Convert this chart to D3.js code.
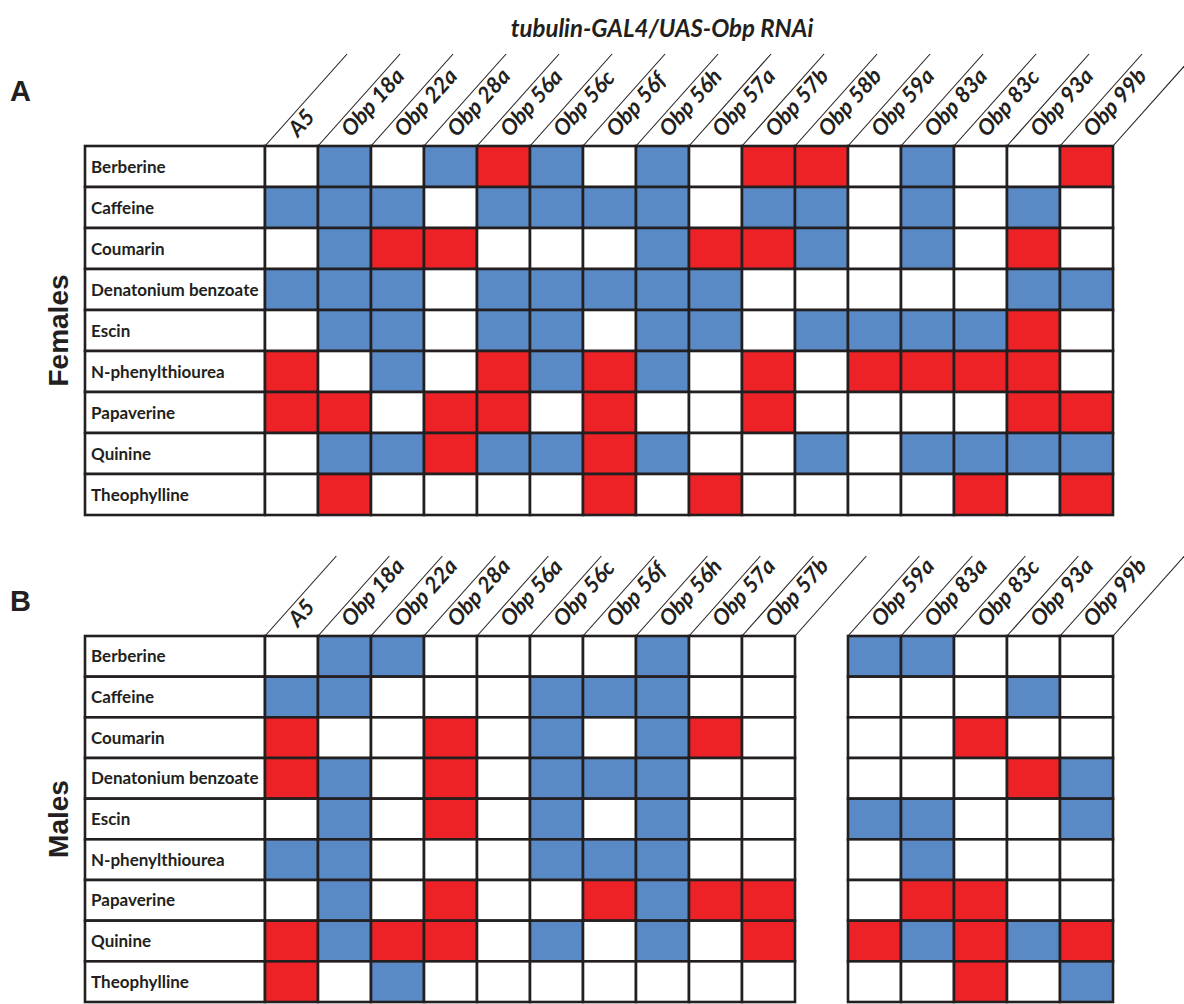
<!DOCTYPE html>
<html><head><meta charset="utf-8">
<script src="https://cdn.jsdelivr.net/npm/d3@7"></script>
<style>
html,body{margin:0;padding:0;background:#fff;}
svg{display:block;}
</style></head>
<body>
<svg id="chart" width="1184" height="1004"></svg>
<script>
// ---- data ----
const title = "tubulin-GAL4/UAS-Obp RNAi";
const lines = ["A5","Obp 18a","Obp 22a","Obp 28a","Obp 56a","Obp 56c","Obp 56f","Obp 56h","Obp 57a","Obp 57b","Obp 58b","Obp 59a","Obp 83a","Obp 83c","Obp 93a","Obp 99b"];
const compounds = ["Berberine","Caffeine","Coumarin","Denatonium benzoate","Escin","N-phenylthiourea","Papaverine","Quinine","Theophylline"];
// B = blue (decrease), R = red (increase), W = no change, - = not tested
const femaleCalls = [
  "WBWBRBWBWRRWBWWR",
  "BBBWBBBBWBBWBWBW",
  "WBRRWWWBRRBWBWRW",
  "BBBWBBBBBWWWWWBB",
  "WBBWBBWBBWBBBBRW",
  "RWBWRBRBWRWRRRRW",
  "RRWRRWRWWRWWWWRR",
  "WBBRBBRBWWBWBBBB",
  "WRWWWWRWRWWWWRWR"
];
const maleCalls = [
  "WBBWWWWBWW-BBWWW",
  "BBWWWBBBWW-WWWBW",
  "RWWRWBWBRW-WWRWW",
  "RBWRWBBBWW-WWWRB",
  "WBWRWBWBWW-BBWWB",
  "BBWWWBBBWW-WBWWW",
  "WBWRWWRBRR-WRRWW",
  "RBRRWBWBWR-RBRBR",
  "RWBWWWWWWW-WWRWB"
];
const panelNames = ["A","B"];
const sexNames = ["Females","Males"];
const colors = {B:"#5A8AC6", R:"#EC2227", W:"#ffffff"};

// ---- layout ----
const svg = d3.select("#chart");
const ink = "#231F20";
const labelLeft = 85, gridLeft = 265, gridRight = 1113;
const panels = [
  {name: panelNames[0], sex: sexNames[0], calls: femaleCalls, top: 146, bottom: 515, head: 92, letterY: 101},
  {name: panelNames[1], sex: sexNames[1], calls: maleCalls, top: 636, bottom: 1002, head: 80, letterY: 611}
];
const slope = 0.892; // dx per dy of header diagonals
const ang = Math.atan2(1, slope) * 180 / Math.PI;

svg.append("text")
  .attr("x", 662).attr("y", 37)
  .attr("text-anchor", "middle")
  .style("font-family", "Lato, 'Open Sans', sans-serif")
  .style("font-weight", 700).style("font-style", "italic")
  .style("font-size", "24px").style("fill", ink)
  .text(title);

const x = d3.scaleBand().domain(lines).range([gridLeft, gridRight]).paddingInner(0).paddingOuter(0);

panels.forEach(p => {
  const g = svg.append("g");
  const y = d3.scaleBand().domain(compounds).range([p.top, p.bottom]);
  const cells = [];
  p.calls.forEach((row, ri) => {
    row.split("").forEach((c, ci) => {
      if (c !== "-") cells.push({compound: compounds[ri], line: lines[ci], call: c});
    });
  });

  // panel letter
  g.append("text").attr("x", 10).attr("y", p.letterY)
    .style("font-family", "'Liberation Sans', Arial, sans-serif")
    .style("font-weight", 700).style("font-size", "29px").style("fill", ink)
    .text(p.name);

  // sex label
  g.append("text")
    .attr("transform", `translate(68,${(p.top + p.bottom) / 2}) rotate(-90)`)
    .attr("text-anchor", "middle")
    .style("font-family", "'Liberation Sans', Arial, sans-serif")
    .style("font-weight", 700).style("font-size", "28px").style("fill", ink)
    .text(p.sex);

  // header diagonals
  const present = lines.map((l, i) => p.calls[0][i] !== "-");
  const edges = new Set();
  lines.forEach((l, i) => {
    if (!present[i]) return;
    edges.add(x(l));
    edges.add(x(l) + x.bandwidth());
  });
  g.selectAll("line.diag").data([...edges]).join("line")
    .attr("class", "diag")
    .attr("x1", d => d).attr("y1", p.top)
    .attr("x2", d => d + p.head * slope).attr("y2", p.top - p.head)
    .attr("stroke", ink).attr("stroke-width", 1.1);

  // column labels
  g.selectAll("text.col").data(lines.filter((l, i) => present[i])).join("text")
    .attr("class", "col")
    .attr("transform", d => `translate(${x(d) + 33},${p.top - 8}) rotate(${-ang})`)
    .style("font-family", "Lato, 'Open Sans', sans-serif")
    .style("font-weight", 700).style("font-style", "italic")
    .style("font-size", "22px").style("fill", ink)
    .text(d => d);

  // row label boxes
  g.selectAll("rect.lab").data(compounds).join("rect")
    .attr("class", "lab")
    .attr("x", labelLeft).attr("y", d => y(d))
    .attr("width", gridLeft - labelLeft).attr("height", y.bandwidth())
    .attr("fill", "#fff").attr("stroke", ink).attr("stroke-width", 2.6);
  g.selectAll("text.lab").data(compounds).join("text")
    .attr("class", "lab")
    .attr("x", labelLeft + 6).attr("y", d => y(d) + y.bandwidth() / 2)
    .attr("dy", "0.36em")
    .style("font-family", "Lato, 'Open Sans', sans-serif")
    .style("font-weight", 700).style("font-size", "17px").style("fill", ink)
    .text(d => d);

  // cells
  g.selectAll("rect.cell").data(cells).join("rect")
    .attr("class", "cell")
    .attr("x", d => x(d.line)).attr("y", d => y(d.compound))
    .attr("width", x.bandwidth()).attr("height", y.bandwidth())
    .attr("fill", d => colors[d.call])
    .attr("stroke", ink).attr("stroke-width", 2.6);
});
</script>
</body></html>
